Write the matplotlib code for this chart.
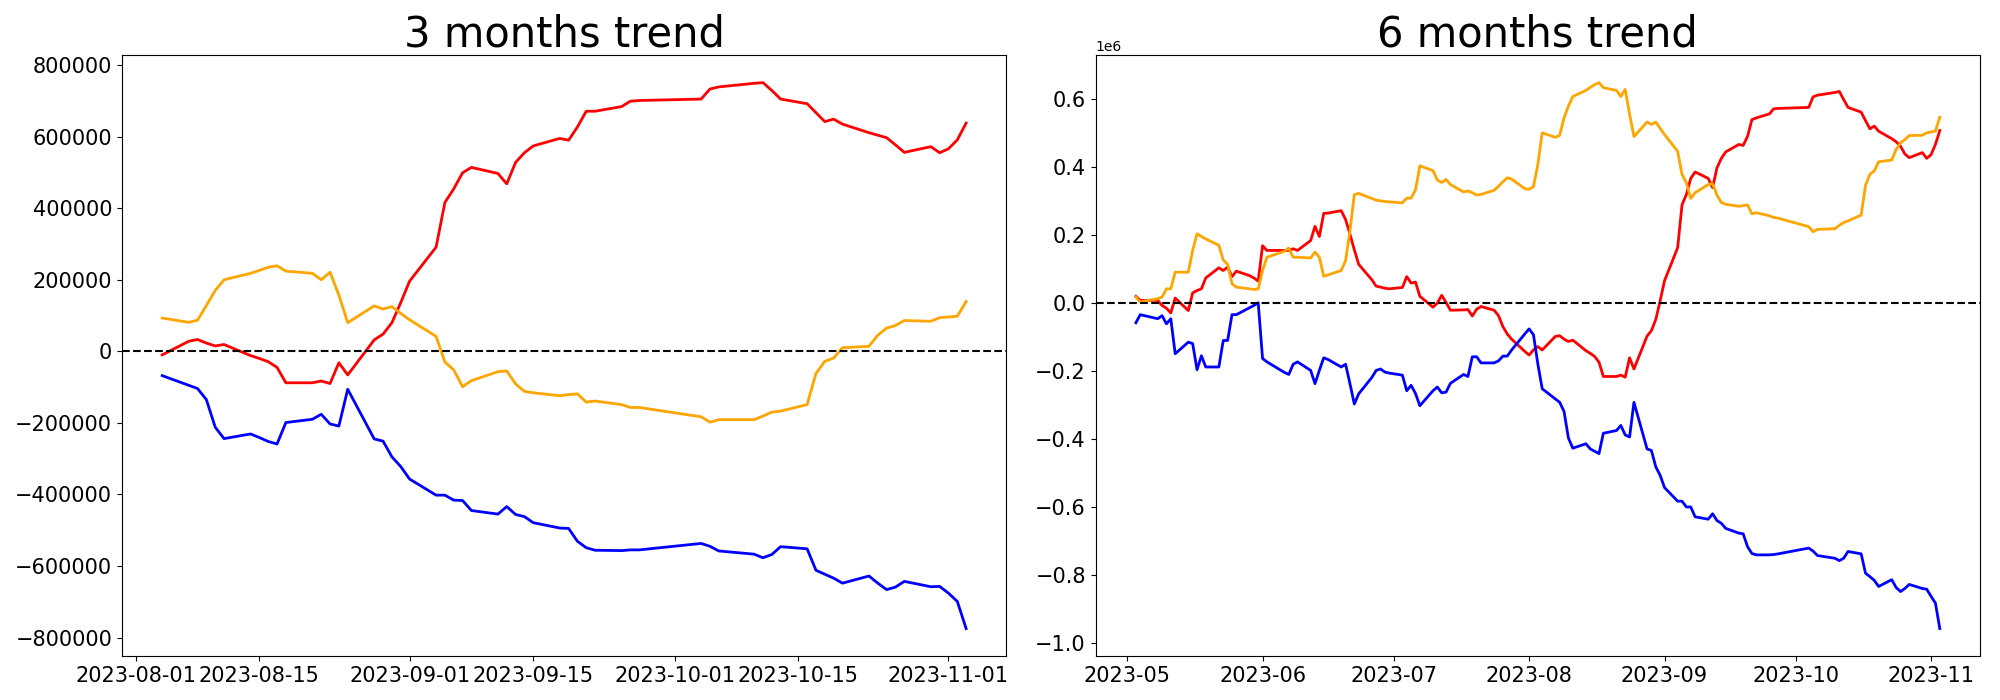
import pandas as pd
import matplotlib
matplotlib.use("Agg")
import matplotlib.pyplot as plt
import matplotlib.dates as mdates

# ---- 3 months window (values in thousands) ----
days_3m = {
    8: [4, 7, 8, 9, 10, 11, 14, 15, 16, 17, 18, 21, 22, 23, 24, 25, 28, 29, 30, 31],
    9: [1, 4, 5, 6, 7, 8, 11, 12, 13, 14, 15, 18, 19, 20, 21, 22, 25, 26, 27],
    10: [4, 5, 6, 10, 11, 12, 13, 16, 17, 18, 19, 20, 23, 24, 25, 26, 27, 30, 31],
    11: [1, 2, 3],
}
red_3m = [-10, 28, 33, 23, 15, 19, -12, -20, -29, -45, -88, -88, -83, -90, -32, -66, 32, 48, 80, 136,
          196, 291, 416, 454, 499, 514, 497, 468, 528, 555, 574, 595, 590, 627, 671, 671, 684, 699, 701,
          705, 733, 739, 749, 751, 729, 705, 692, 667, 642, 649, 635, 611, 604, 597, 577, 556, 572, 555,
          566, 591, 638]
orange_3m = [93, 81, 87, 128, 170, 200, 218, 226, 235, 239, 224, 218, 200, 221, 157, 80, 127, 118, 125, 106,
             88, 42, -30, -52, -99, -82, -57, -55, -91, -112, -116, -124, -121, -119, -142, -139, -149, -157, -157,
             -183, -198, -191, -191, -181, -170, -167, -149, -62, -28, -19, 10, 14, 45, 65, 72, 86, 84, 94,
             96, 98, 139]
blue_3m = [-68, -95, -104, -135, -212, -244, -231, -241, -252, -259, -199, -190, -176, -203, -209, -106, -245, -251, -295, -322,
           -357, -402, -402, -416, -417, -445, -455, -434, -456, -462, -479, -494, -495, -531, -549, -556, -557, -555, -555,
           -537, -545, -558, -567, -577, -568, -546, -552, -612, -623, -634, -648, -628, -648, -666, -659, -643, -658, -657,
           -676, -699, -775]

# ---- 6 months window (values in thousands) ----
days_6m = {
    5: [3, 4, 5, 8, 9, 10, 11, 12, 15, 16, 17, 18, 19, 22, 23, 24, 25, 26, 29, 30, 31],
    6: [1, 2, 5, 6, 7, 8, 9, 12, 13, 14, 15, 16, 19, 20, 21, 22, 23, 26, 27, 28, 29, 30],
    7: [3, 4, 5, 6, 7, 10, 11, 12, 13, 14, 17, 18, 19, 20, 21, 24, 25, 26, 27, 28, 31],
    8: [1, 2, 3, 4, 7, 8, 9, 10, 11, 14, 15, 16, 17, 18, 21, 22, 23, 24, 25, 28, 29, 30, 31],
    9: [1, 4, 5, 6, 7, 8, 11, 12, 13, 14, 15, 18, 19, 20, 21, 22, 25, 26, 27],
    10: [4, 5, 6, 10, 11, 12, 13, 16, 17, 18, 19, 20, 23, 24, 25, 26, 27, 30, 31],
    11: [1, 2, 3],
}
red_6m = [20, 8, 8, 8, -7, -15, -29, 15, -22, 30, 37, 42, 74, 104, 96, 106, 78, 94, 81, 74, 65,
          169, 155, 155, 155, 155, 160, 155, 184, 226, 196, 264, 265, 272, 246, 203, 157, 114, 69, 50, 47, 44, 42,
          46, 78, 59, 62, 20, -12, 0, 23, 2, -21, -20, -19, -38, -18, -10, -21, -37, -69, -91, -106, -142,
          -153, -138, -128, -138, -98, -96, -106, -113, -109, -140, -148, -157, -174, -216, -216, -212, -218, -161, -194, -97, -81, -48, 7,
          66, 163, 289, 320, 367, 386, 367, 340, 398, 426, 445, 467, 464, 491, 540, 545, 557, 572, 573,
          576, 607, 612, 620, 623, 599, 576, 562, 537, 513, 521, 506, 484, 475, 462, 439, 428, 443, 426,
          437, 467, 508]
orange_6m = [18, 3, 6, 13, 18, 42, 42, 91, 91, 155, 204, 196, 189, 170, 127, 114, 57, 47, 42, 40, 42,
             96, 135, 148, 153, 162, 135, 135, 133, 150, 135, 79, 83, 96, 125, 213, 319, 323, 308, 303, 301, 299, 298,
             295, 309, 309, 333, 404, 390, 362, 355, 364, 349, 327, 330, 325, 318, 320, 332, 344, 357, 369, 365, 337,
             335, 343, 408, 501, 488, 494, 545, 580, 608, 626, 635, 643, 649, 634, 626, 608, 629, 556, 490, 533, 526, 533, 514,
             496, 447, 379, 354, 308, 325, 349, 351, 318, 296, 291, 285, 287, 289, 263, 266, 257, 252, 250,
             225, 210, 217, 219, 229, 237, 242, 259, 347, 379, 389, 416, 421, 452, 472, 481, 493, 494, 501,
             504, 506, 547]
blue_6m = [-58, -34, -37, -46, -37, -61, -46, -149, -115, -119, -196, -155, -188, -188, -110, -110, -34, -34, -14, -7, 1,
           -163, -173, -196, -204, -210, -180, -173, -198, -237, -198, -161, -166, -188, -180, -237, -297, -267, -219, -198, -194, -203, -206,
           -212, -258, -242, -266, -302, -258, -247, -264, -262, -236, -210, -216, -158, -158, -176, -176, -170, -156, -156, -138, -91,
           -76, -93, -179, -252, -282, -292, -319, -397, -427, -414, -429, -436, -443, -383, -375, -360, -388, -394, -292, -429, -434, -482, -507,
           -543, -583, -583, -600, -600, -629, -636, -620, -640, -648, -663, -677, -679, -717, -737, -741, -741, -740, -738,
           -721, -730, -743, -751, -758, -751, -731, -738, -795, -805, -816, -834, -814, -837, -849, -840, -828, -840, -842,
           -863, -883, -958]


def to_dates(days):
    return pd.to_datetime([f"2023-{m:02d}-{d:02d}" for m, ds in days.items() for d in ds])


dates_3m = to_dates(days_3m)
dates_6m = to_dates(days_6m)

fig, (ax1, ax2) = plt.subplots(1, 2, figsize=(20, 7))
fig.subplots_adjust(left=0.061, right=0.99, bottom=0.063, top=0.921, wspace=0.101)

for ax, dates, red, orange, blue, title in [
    (ax1, dates_3m, red_3m, orange_3m, blue_3m, "3 months trend"),
    (ax2, dates_6m, red_6m, orange_6m, blue_6m, "6 months trend"),
]:
    ax.plot(dates, [v * 1000 for v in red], color="red", linewidth=2)
    ax.plot(dates, [v * 1000 for v in orange], color="orange", linewidth=2)
    ax.plot(dates, [v * 1000 for v in blue], color="blue", linewidth=2)
    ax.axhline(0, color="black", linestyle="--", linewidth=1.5)
    ax.set_title(title, fontsize=30)
    ax.tick_params(axis="both", labelsize=15)

ax1.xaxis.set_major_locator(mdates.DayLocator(bymonthday=[1, 15]))
ax1.xaxis.set_major_formatter(mdates.DateFormatter("%Y-%m-%d"))
ax2.xaxis.set_major_locator(mdates.MonthLocator())
ax2.xaxis.set_major_formatter(mdates.DateFormatter("%Y-%m"))

fig.savefig("out.png", dpi=100)
